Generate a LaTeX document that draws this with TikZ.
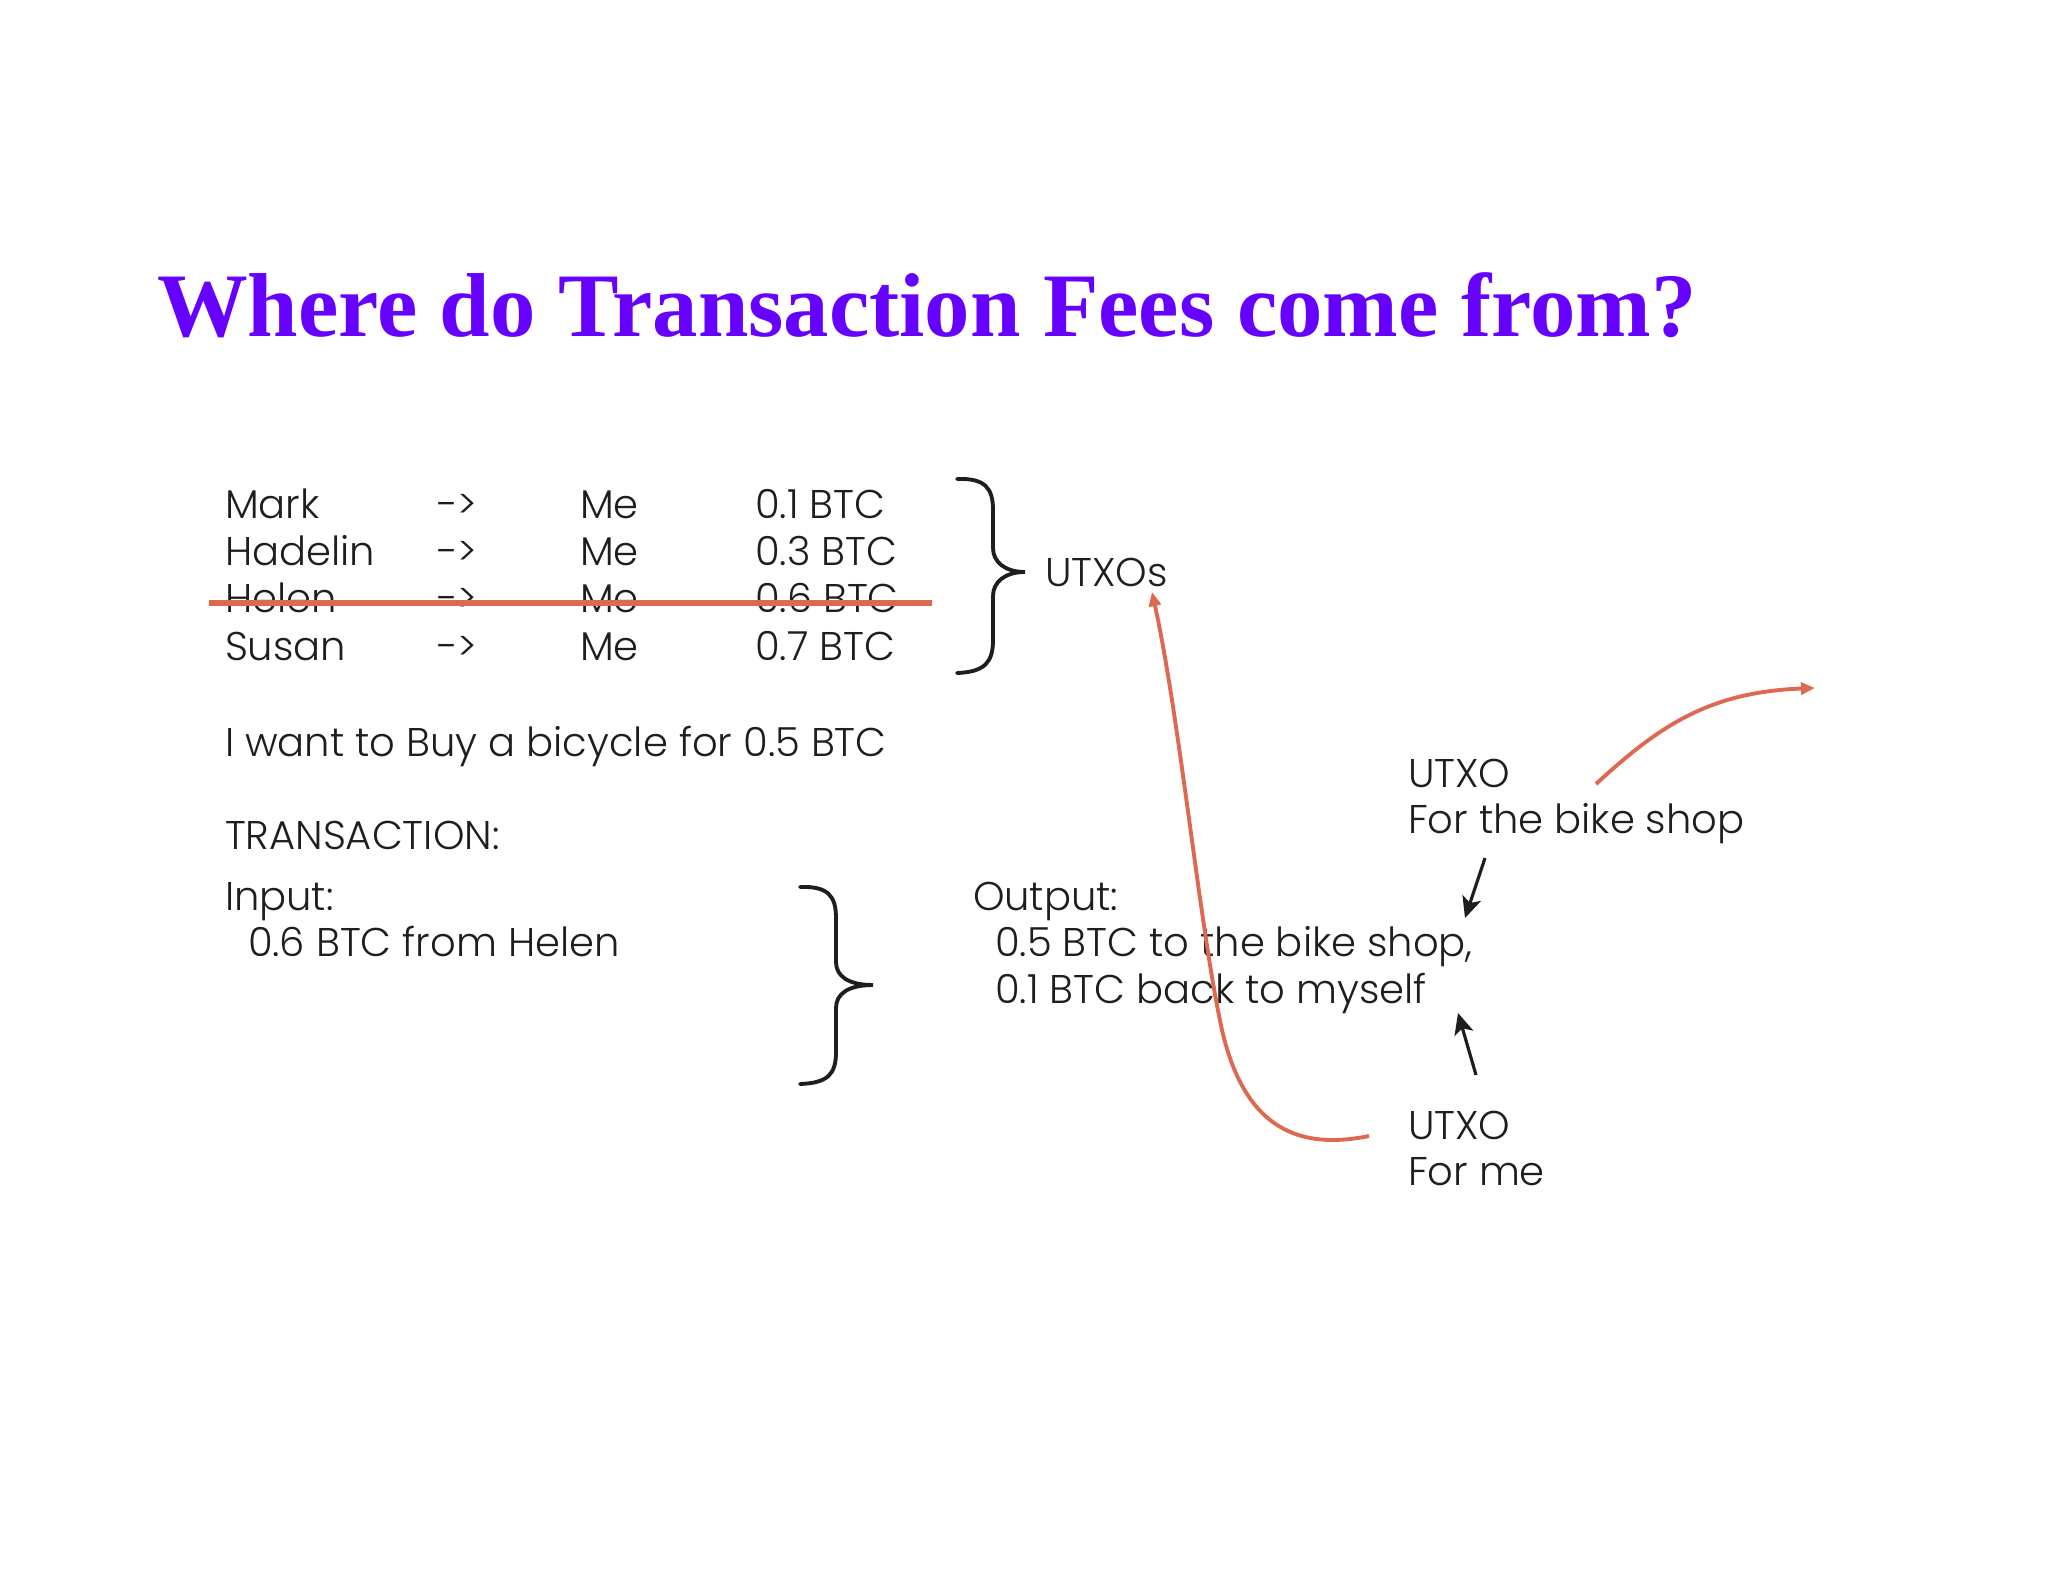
\documentclass[tikz,border=0pt]{standalone}
\usepackage{fontspec}
\usepackage{tikz}
\usetikzlibrary{arrows.meta}
\newfontfamily\bodyfont{Poppins Light}
\newfontfamily\titlefont{Liberation Serif}
\definecolor{titleviolet}{RGB}{102,0,255}
\definecolor{inkgray}{RGB}{30,30,30}
\definecolor{fee}{RGB}{220,105,80}

\begin{document}
\begin{tikzpicture}[x=0.01cm, y=-0.01cm,
    every node/.style={inner sep=0pt, outer sep=0pt, anchor=base west, text=inkgray, font=\bodyfont\fontsize{11.4}{13}\selectfont},
    redarrow/.style={draw=fee, line width=1.1pt, -{Triangle[length=4pt,width=3.4pt]}},
    blackarrow/.style={draw=inkgray, line width=0.9pt, -{Stealth[length=6pt,width=5.5pt,inset=1.5pt]}},
    curly/.style={draw=inkgray, line width=1.1pt, line cap=round}]
    \useasboundingbox (0,0) rectangle (2048,1582);
    \node[text=titleviolet, font=\titlefont\bfseries\fontsize{25.8}{30}\selectfont](title) at (157,337) {Where do Transaction Fees come from?};

    \node[](mark) at (225,518) {Mark};
    \node[](mark_to) at (437,518) {->};
    \node[](mark_me) at (580,518) {Me};
    \node[](mark_btc) at (755,518) {0.1 BTC};

    \node[](hadelin) at (225,565) {Hadelin};
    \node[](hadelin_to) at (437,565) {->};
    \node[](hadelin_me) at (580,565) {Me};
    \node[](hadelin_btc) at (755,565) {0.3 BTC};

    \node[](helen) at (225,612) {Helen};
    \node[](helen_to) at (437,612) {->};
    \node[](helen_me) at (580,612) {Me};
    \node[](helen_btc) at (755,612) {0.6 BTC};

    \node[](susan) at (225,660) {Susan};
    \node[](susan_to) at (437,660) {->};
    \node[](susan_me) at (580,660) {Me};
    \node[](susan_btc) at (755,660) {0.7 BTC};

    \node[](utxos) at (1045,586) {UTXOs};
    \node[](bicycle) at (225,756) {I want to Buy a bicycle for 0.5 BTC};
    \node[](transaction) at (225,849) {TRANSACTION:};
    \node[](input) at (225,910) {Input:};
    \node[](input_helen) at (248,956) {0.6 BTC from Helen};
    \node[](output) at (973,910) {Output:};
    \node[](output_shop) at (995,956) {0.5 BTC to the bike shop,};
    \node[](output_me) at (995,1003) {0.1 BTC back to myself};
    \node[](utxo_shop) at (1408,787) {UTXO};
    \node[](utxo_shop_for) at (1408,833) {For the bike shop};
    \node[](utxo_me) at (1408,1139) {UTXO};
    \node[](utxo_me_for) at (1408,1185) {For me};

    \coordinate (strike_left) at (209,603);
    \coordinate (strike_right) at (932,603);
    \coordinate (fee_start) at (1369,1136);
    \coordinate (fee_end) at (1152,592);
    \coordinate (shop_start) at (1596,784);
    \coordinate (shop_end) at (1815,688);

    \draw[draw=fee, line width=1.5pt] (strike_left) -- (strike_right);
    % braces
    \draw[curly] (957,479) .. controls (985,478) and (993,488) .. (993,510) -- (993,548)
        .. controls (993,562) and (1005,572) .. (1025,572)
        .. controls (1005,572) and (993,582) .. (993,596) -- (993,640)
        .. controls (993,662) and (985,672) .. (957,673);
    \draw[curly] (800,887) .. controls (828,886) and (836,896) .. (836,918) -- (836,962)
        .. controls (836,976) and (848,985) .. (873,985)
        .. controls (848,985) and (836,994) .. (836,1008) -- (836,1052)
        .. controls (836,1074) and (828,1083) .. (800,1084);

    \draw[blackarrow] (1485,858) -- (1465,918);
    \draw[blackarrow] (1476,1075) -- (1458,1013);
    \draw[redarrow] (fee_start) .. controls (1300,1150) and (1245,1130) .. (1222,1030)
        .. controls (1200,930) and (1180,720) .. (fee_end);
    \draw[redarrow] (shop_start) .. controls (1660,725) and (1710,692) .. (shop_end);
\end{tikzpicture}
\end{document}
